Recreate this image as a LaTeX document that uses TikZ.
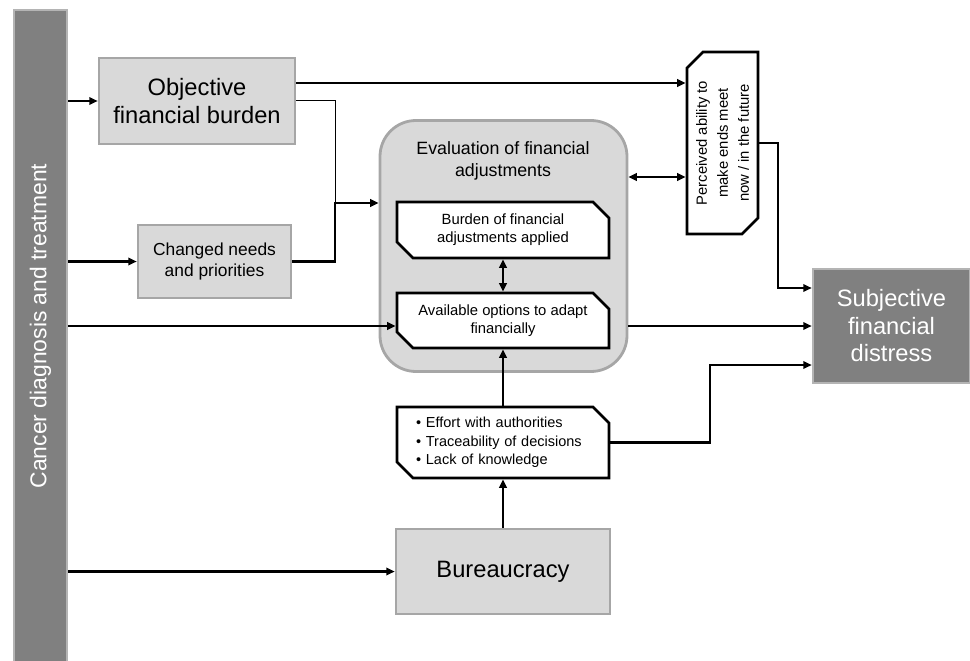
\documentclass[tikz,border=0pt]{standalone}
\usepackage{fontspec}
\setmainfont{Liberation Sans}
\usetikzlibrary{shapes.misc,arrows.meta}
\definecolor{boxfill}{HTML}{D9D9D9}
\definecolor{boxborder}{HTML}{A6A6A6}
\definecolor{darkfill}{HTML}{808080}
\definecolor{darkborder}{HTML}{B4B4B4}
\begin{document}
\begin{tikzpicture}[x=1pt,y=-1pt,
  big/.style={font=\fontsize{23.7pt}{27.5pt}\selectfont},
  mid/.style={font=\fontsize{17.4pt}{21.5pt}\selectfont},
  small/.style={font=\fontsize{14.8pt}{18pt}\selectfont},
  lbox/.style={draw=boxborder,fill=boxfill,line width=2.5pt,align=center,inner sep=0pt},
  dbox/.style={draw=darkborder,fill=darkfill,line width=2.5pt,align=center,text=white,inner sep=0pt},
  cbox/.style={chamfered rectangle,chamfered rectangle corners={north east,south west},
    chamfered rectangle xsep=8pt,chamfered rectangle ysep=8pt,draw=black,fill=white,
    line width=2.8pt,inner sep=0pt,align=center},
  arr/.style={line width=2.7pt,-{Triangle[length=8.5pt,width=7.5pt]}},
  darr/.style={line width=2.7pt,{Triangle[length=8.5pt,width=7.5pt]}-{Triangle[length=8.5pt,width=7.5pt]}},
  thinline/.style={line width=1pt}
]
\useasboundingbox (0,0) rectangle (970,661);
% left bar
\node[dbox,minimum width=53pt,minimum height=660pt] (bar) at (40.5,340) {};
\node[font=\fontsize{22.9pt}{27pt}\selectfont,rotate=90,text=white] (bartext) at (40.5,326) {Cancer diagnosis and treatment};
% boxes
\node[lbox,big,minimum width=196pt,minimum height=86pt] (obj) at (197,101) {Objective\\financial burden};
\node[lbox,mid,minimum width=153pt,minimum height=73pt] (chg) at (214.5,261.5) {Changed needs\\and priorities};
\node[lbox,draw=boxborder,line width=2.8pt,rounded corners=36pt,minimum width=247pt,minimum height=251pt] (eval) at (503.5,246) {};
\node[align=center,font=\fontsize{17.8pt}{22pt}\selectfont] (evaltitle) at (503,161) {Evaluation of financial\\adjustments};
\node[cbox,small,minimum width=212pt,minimum height=56pt] (burd) at (503,230) {Burden of financial\\adjustments applied};
\node[cbox,small,minimum width=212pt,minimum height=55pt] (avail) at (503,320.5) {Available options to adapt\\financially};
\node[cbox,minimum width=212pt,minimum height=71pt,font=\fontsize{14.5pt}{18.5pt}\selectfont,align=left,text width=174pt] (eff) at (503,442.5) {• Effort with authorities\\• Traceability of decisions\\• Lack of knowledge};
\node[lbox,big,minimum width=214pt,minimum height=85pt] (bur) at (503,571.5) {Bureaucracy};
\node[cbox,small,rotate=90,minimum width=182pt,minimum height=71pt,font=\fontsize{14.8pt}{21pt}\selectfont] (perc) at (722.5,143) {Perceived ability to\\make ends meet\\now / in the future};
\node[dbox,big,minimum width=157pt,minimum height=114pt] (subj) at (891.5,326) {Subjective\\financial\\distress};
% coordinates
\coordinate (j) at (335,203);
\coordinate (m) at (0,326);
\coordinate (p1) at (778,288);
\coordinate (e1) at (710,365);
\coordinate (t1) at (0,83);
\coordinate (t2) at (0,177);
% connectors
\draw[arr] (bar.east |- obj.west) -- (obj.west);
\draw[arr] (bar.east |- chg.west) -- (chg.west);
\draw[arr] (bar.east |- m) -- (avail.west |- m);
\draw[arr] (bar.east |- bur.west) -- (bur.west);
\draw[arr] (obj.east |- t1) -- (perc.north |- t1);
\draw[thinline] (obj.east) -| (j);
\draw[arr] (chg.east) -| (j) -- (eval.west |- j);
\draw[darr] (burd.south) -- (avail.north);
\draw[arr] (eff.north) -- (avail.south);
\draw[arr] (bur.north) -- (eff.south);
\draw[darr] (eval.east |- t2) -- (perc.north |- t2);
\draw[arr] (eval.east |- m) -- (subj.west |- m);
\draw[arr] (perc.south) -| (p1) -- (subj.west |- p1);
\draw[arr] (eff.east) -| (e1) -- (subj.west |- e1);
\end{tikzpicture}
\end{document}
